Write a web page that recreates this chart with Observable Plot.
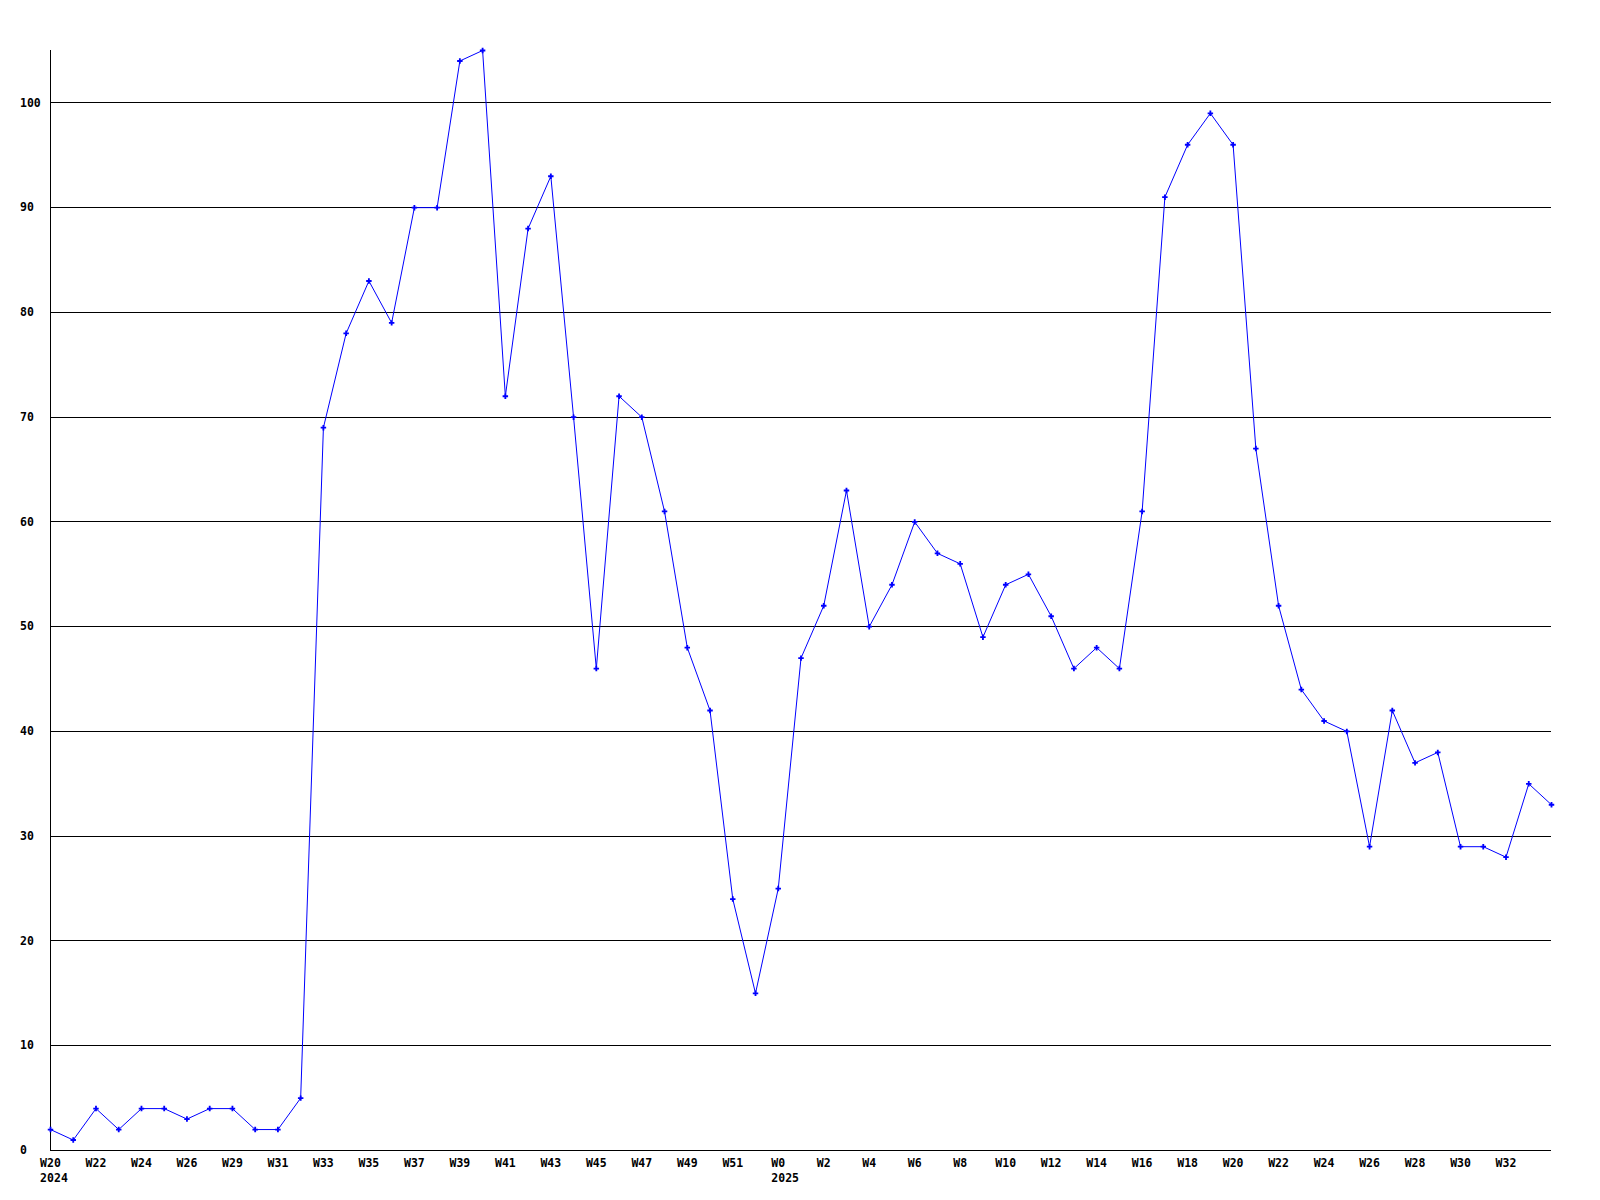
<!DOCTYPE html>
<html>
<head>
<meta charset="utf-8">
<script src="https://cdn.jsdelivr.net/npm/d3@7"></script>
<script src="https://cdn.jsdelivr.net/npm/@observablehq/plot@0.6"></script>
<style>
  html, body { margin: 0; padding: 0; background: #ffffff; }
  #chart svg { display: block; }
</style>
</head>
<body>
<div id="chart"></div>
<script>
// Weekly values, W20 2024 through W34 2025 (one per week, 67 points)
const values = [
  2, 1, 4, 2, 4, 4, 3, 4, 4, 2, 2, 5,
  69, 78, 83, 79, 90, 90, 104, 105, 72, 88, 93, 70,
  46, 72, 70, 61, 48, 42, 24, 15, 25, 47, 52, 63,
  50, 54, 60, 57, 56, 49, 54, 55, 51, 46, 48, 46,
  61, 91, 96, 99, 96, 67, 52, 44, 41, 40, 29, 42,
  37, 38, 29, 29, 28, 35, 33
];

// X tick labels (every second week)
const weekTickLabels = [
  "W20", "W22", "W24", "W26", "W29", "W31", "W33", "W35", "W37", "W39",
  "W41", "W43", "W45", "W47", "W49", "W51", "W0", "W2", "W4", "W6",
  "W8", "W10", "W12", "W14", "W16", "W18", "W20", "W22", "W24", "W26",
  "W28", "W30", "W32"
];
const yearLabels = ["2024", "2025"];
const yearLabelWeekTick = [0, 16]; // position in weekTickLabels

// Y tick values
const yTicks = [0, 10, 20, 30, 40, 50, 60, 70, 80, 90, 100];

const points = values.map((v, i) => ({ i, v }));
const xTicks = weekTickLabels.map((label, k) => ({ i: k * 2, label }));
const years = yearLabels.map((label, k) => {
  const t = xTicks[yearLabelWeekTick[k]];
  return { i: t.i, label, weekLen: t.label.length };
});

const font = "DejaVu Sans Mono";
const fs = 11.5;
const charW = fs * 0.602;

const chart = Plot.plot({
  width: 1600,
  height: 1200,
  marginLeft: 50,
  marginRight: 49,
  marginTop: 50,
  marginBottom: 50,
  style: { background: "#ffffff", fontFamily: font, fontSize: fs + "px", color: "#000" },
  x: { domain: [0, values.length - 1], axis: null },
  y: { domain: [0, 105], axis: null },
  marks: [
    // horizontal gridlines
    Plot.ruleY(yTicks.filter(d => d > 0), { stroke: "#000", strokeWidth: 1, shapeRendering: "crispEdges" }),
    // axis lines
    Plot.ruleY([0], { stroke: "#000", strokeWidth: 1, shapeRendering: "crispEdges" }),
    Plot.ruleX([0], { y1: 0, y2: 105, stroke: "#000", strokeWidth: 1, shapeRendering: "crispEdges" }),
    // y labels (left-aligned)
    Plot.text(yTicks, {
      x: () => 0, y: d => d, text: d => String(d),
      textAnchor: "start", dx: -30.5, fontWeight: "bold", fontFamily: font, fontSize: fs, fill: "#000"
    }),
    // x week labels
    Plot.text(xTicks, {
      x: "i", y: () => 0, text: "label",
      textAnchor: "middle", lineAnchor: "middle", dy: 13, fontWeight: "bold", fontFamily: font, fontSize: fs, fill: "#000"
    }),
    // year labels (left-aligned with the week label above)
    Plot.text(years.filter(d => d.weekLen === 3), {
      x: "i", y: () => 0, text: "label",
      textAnchor: "start", lineAnchor: "middle", dx: -1.5 * charW, dy: 28, fontWeight: "bold", fontFamily: font, fontSize: fs, fill: "#000"
    }),
    Plot.text(years.filter(d => d.weekLen === 2), {
      x: "i", y: () => 0, text: "label",
      textAnchor: "start", lineAnchor: "middle", dx: -1.0 * charW, dy: 28, fontWeight: "bold", fontFamily: font, fontSize: fs, fill: "#000"
    }),
    // series line
    Plot.line(points, { x: "i", y: "v", stroke: "#0000ff", strokeWidth: 1 }),
    Plot.dot(points, { x: "i", y: "v", symbol: "cross", r: 2.3, fill: "#0000ff", stroke: "none" })
  ]
});
document.getElementById("chart").appendChild(chart);
</script>
</body>
</html>
